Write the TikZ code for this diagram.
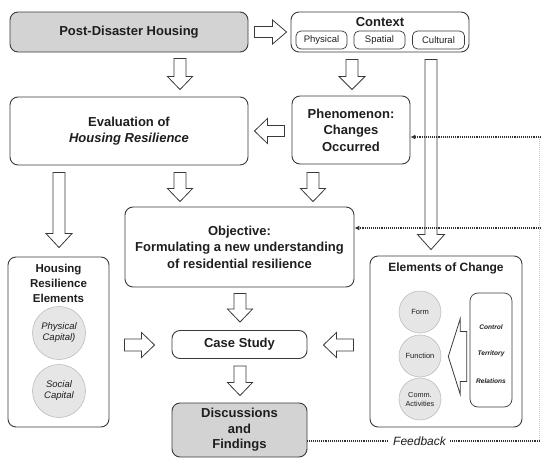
\documentclass[tikz,border=0pt]{standalone}
\usepackage{fontspec}
\setmainfont{Liberation Sans}
\usetikzlibrary{calc,arrows.meta}
\definecolor{boxc}{HTML}{3A3A3A}
\definecolor{grayfill}{HTML}{D3D3D3}
\definecolor{circfill}{HTML}{E6E6E6}
\definecolor{circdraw}{HTML}{BDBDBD}
\definecolor{txt}{HTML}{1E1E1E}
\newcommand{\barrow}[5]{%
  \coordinate (bas) at (#1);
  \coordinate (bat) at (#2);
  \coordinate (bah) at ($(bat)!#5!(bas)$);
  \draw[harrow] ($(bas)!#3!90:(bat)$) -- ($(bah)!#3!90:(bat)$) -- ($(bah)!#4!90:(bat)$)
    -- (bat) -- ($(bah)!#4!-90:(bat)$) -- ($(bah)!#3!-90:(bat)$) -- ($(bas)!#3!-90:(bat)$) -- cycle;
}
\begin{document}
\begin{tikzpicture}[x=1pt,y=-1pt,
  every node/.style={text=txt},
  box/.style={draw=boxc, line width=0.9pt, rounded corners=8pt, inner sep=0pt, align=center,
    font=\fontsize{13}{16.5}\selectfont\bfseries},
  subbox/.style={draw=boxc, line width=0.7pt, rounded corners=5pt, inner sep=0pt,
    minimum height=18pt, font=\fontsize{9.5}{11}\selectfont},
  circ/.style={circle, fill=circfill, draw=circdraw, line width=0.6pt, inner sep=0pt, align=center},
  harrow/.style={draw=boxc, line width=0.8pt, fill=white, line join=miter},
  dotline/.style={draw=boxc!85!black, line width=1.3pt, dash pattern=on 0.9pt off 1pt},
  faint/.style={draw=black!22, line width=0.8pt, dash pattern=on 1pt off 1pt},
  tip/.style={-{Latex[length=5pt,width=5pt]}}
]
\useasboundingbox (0,0) rectangle (542,458);

% main boxes
\node[box, fill=grayfill, minimum width=238pt, minimum height=40pt] (pdh) at (129,32) {Post-Disaster Housing};
\node[box, minimum width=178pt, minimum height=40pt] (ctx) at (380,32) {};
\node[font=\fontsize{13}{15}\selectfont\bfseries] (ctxt) at (380,22) {Context};
\node[subbox, minimum width=51pt] (phys) at (321.5,40) {Physical};
\node[subbox, minimum width=51pt] (spat) at (379.5,40) {Spatial};
\node[subbox, minimum width=52pt] (cult) at (438.5,40) {Cultural};

\node[box, minimum width=238pt, minimum height=68pt] (eval) at (129,131) {Evaluation of\\\textit{Housing Resilience}};
\node[box, minimum width=118pt, minimum height=68pt] (phen) at (351,130) {Phenomenon:\\Changes\\Occurred};

\node[box, minimum width=229pt, minimum height=80pt] (obj) at (239.5,247) {Objective:\\Formulating a new understanding\\of residential resilience};

\node[box, minimum width=101pt, minimum height=170pt] (hre) at (58.5,342) {};
\node[font=\fontsize{11.5}{15}\selectfont\bfseries, align=center] (hret) at (58.5,283) {Housing\\Resilience\\Elements};
\node[circ, minimum size=53pt, font=\fontsize{9.5}{11}\selectfont\itshape] (pc) at (59,333) {Physical\\Capital)};
\node[circ, minimum size=53pt, font=\fontsize{9.5}{11}\selectfont\itshape] (sc) at (59,391) {Social\\Capital};

\node[box, minimum width=135pt, minimum height=28pt] (cs) at (239.5,344.5) {Case Study};
\node[box, fill=grayfill, minimum width=135pt, minimum height=54pt, font=\fontsize{13}{15.5}\selectfont\bfseries] (dis) at (239.5,430) {Discussions\\and\\Findings};

\node[box, minimum width=152pt, minimum height=171pt] (eoc) at (446,341.5) {};
\node[font=\fontsize{12}{14}\selectfont\bfseries] (eoct) at (446,268) {Elements of Change};
\node[circ, minimum size=42pt, font=\fontsize{7.5}{9}\selectfont] (form) at (420,312) {Form};
\node[circ, minimum size=42pt, font=\fontsize{7.5}{9}\selectfont] (fun) at (420,356) {Function};
\node[circ, minimum size=42pt, font=\fontsize{7.3}{9}\selectfont] (comm) at (420,399) {Comm.\\Activities};
\node[draw=boxc, line width=0.7pt, rounded corners=8pt, minimum width=42pt, minimum height=114pt, inner sep=0pt] (inner) at (491,350) {};
\node[font=\fontsize{6.6}{8}\selectfont\bfseries\itshape] (ctl) at (491,327) {Control};
\node[font=\fontsize{6.6}{8}\selectfont\bfseries\itshape] (ter) at (491,354) {Territory};
\node[font=\fontsize{6.6}{8}\selectfont\bfseries\itshape] (rel) at (491,381) {Relations};

% block arrows
\barrow{$(pdh.east)+(6,0)$}{$(ctx.west)+(-4,0)$}{5.5pt}{12pt}{14pt}
\barrow{$(pdh.south)+(51,6)$}{$(eval.north)+(51,-7)$}{6pt}{12.5pt}{13pt}
\barrow{$(ctx.south)+(-28,7)$}{$(phen.north)+(1,-6)$}{6pt}{13pt}{13pt}
\barrow{$(ctx.south)+(51,7)$}{$(eoc.north)+(-15,-6)$}{6pt}{13.5pt}{15pt}
\barrow{$(phen.west)+(-7,1)$}{$(eval.east)+(6,0)$}{5.5pt}{12.5pt}{13pt}
\barrow{$(eval.south)+(51,7)$}{$(obj.north)+(-59.5,-5)$}{6pt}{12.5pt}{13pt}
\barrow{$(phen.south)+(-38,8)$}{$(obj.north)+(73.5,-5)$}{6pt}{12.5pt}{13pt}
\barrow{$(eval.south)+(-70,7)$}{$(hre.north)+(0.5,-9)$}{6pt}{13pt}{14pt}
\barrow{$(hre.east)+(15,3)$}{$(cs.west)+(-17,0.5)$}{6pt}{12.5pt}{13pt}
\barrow{$(eoc.west)+(-16,3.5)$}{$(cs.east)+(16,0.5)$}{6pt}{12.5pt}{13pt}
\barrow{$(obj.south)+(0.5,6)$}{$(cs.north)+(0.5,-8)$}{6pt}{12.5pt}{13pt}
\barrow{$(cs.south)+(0.5,7)$}{$(dis.north)+(0.5,-7)$}{6pt}{12.5pt}{13pt}
\barrow{$(inner.west)+(-3,6.5)$}{$(fun.east)+(7,0.5)$}{25pt}{38pt}{12pt}

% dotted feedback lines
\coordinate (r1) at (541,137);
\coordinate (r2) at (541,228);
\coordinate (fb) at (541,441);
\draw[faint] ([xshift=-1.5pt]r1) -- ([xshift=-1.5pt]fb);
\draw[dotline, tip] (r1) -- (phen.east |- r1);
\draw[dotline, tip] (r2) -- (obj.east |- r2);
\draw[dotline] (dis.east |- fb) -- (fb) node[pos=0.48, fill=white, inner xsep=4pt, inner ysep=1pt, font=\fontsize{12}{14}\selectfont\itshape] (fbt) {Feedback};
\end{tikzpicture}
\end{document}
